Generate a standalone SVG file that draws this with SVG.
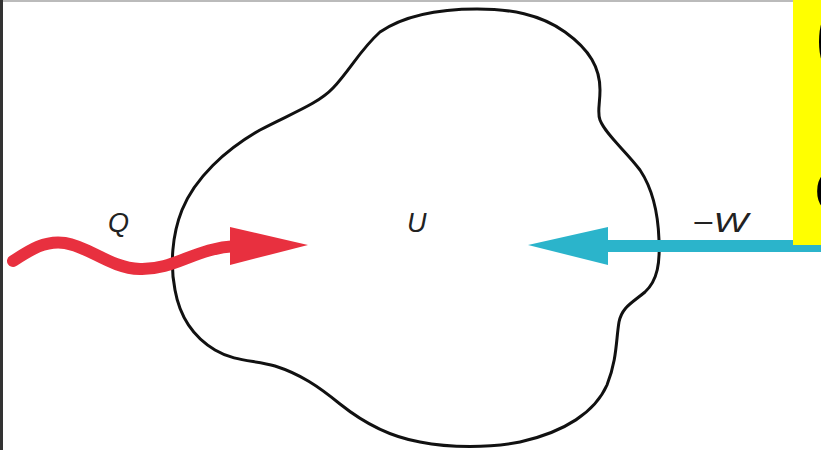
<svg xmlns="http://www.w3.org/2000/svg" width="821" height="450" viewBox="0 0 821 450">
<style>
.lbl{font-family:"Liberation Sans",Arial,sans-serif;font-style:italic;font-size:27px;fill:#222}
.big{font-family:"Liberation Sans",Arial,sans-serif;font-weight:bold;font-size:80px;fill:#000}
</style>
<rect x="0" y="0" width="821" height="450" fill="#fff"/>
<rect x="0" y="0" width="821" height="2" fill="#bbb"/>
<rect x="0" y="0" width="3" height="450" fill="#333"/>
<g id="system">
<path d="M477,9 C510,9 540,14 565,32 C590,50 600,68 600,90 C600,105 597,112 600,120 C606,135 625,150 640,170 C652,188 658,210 659,240 C660,262 658,280 645,292 C632,303 622,307 619,322 C616,340 617,360 607,385 C595,412 565,432 520,442 C490,448 450,448 420,442 C385,436 360,420 340,404 C318,386 300,374 275,366 C255,360 235,362 215,350 C195,338 180,318 175,290 C170,265 172,235 182,210 C195,178 225,150 260,130 C290,114 318,104 333,88 C350,70 360,50 380,32 C405,15 440,9 477,9 Z" fill="none" stroke="#111" stroke-width="3"/>
<text class="lbl" x="407" y="232">U</text>
</g>
<g id="heat">
<path d="M13,261 C30,250 45,240 65,243 C90,247 110,268 140,269 C175,270 195,248 236,246" fill="none" stroke="#e8303f" stroke-width="12" stroke-linecap="round"/>
<polygon points="230,227 308,245 230,265" fill="#e8303f"/>
<text class="lbl" x="108" y="232">Q</text>
</g>
<g id="work">
<rect x="605" y="240" width="216" height="12" fill="#2bb4cb"/>
<polygon points="608,227 528,245 608,265" fill="#2bb4cb"/>
<text class="lbl" x="692" y="232" textLength="56" lengthAdjust="spacingAndGlyphs">−W</text>
</g>
<g id="note">
<rect x="793" y="0" width="28" height="245" fill="#ffff00"/>
<text class="big" x="815" y="62">(</text>
<text class="big" x="814" y="212">c</text>
</g>
</svg>
